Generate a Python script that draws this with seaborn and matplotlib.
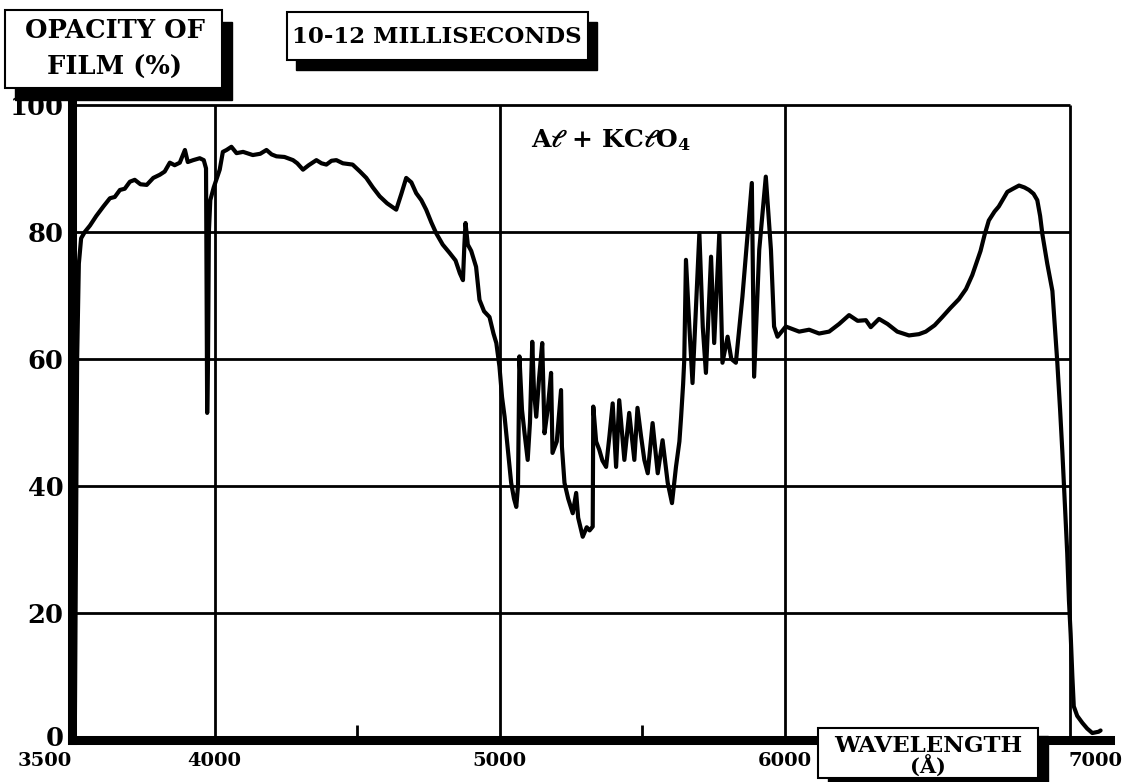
import matplotlib
matplotlib.use("Agg")
import matplotlib.pyplot as plt
import matplotlib.transforms as mtransforms
from matplotlib.patches import Rectangle
import seaborn as sns
import pandas as pd

# ---------------- data ----------------
wavelength = [3510, 3514, 3518, 3524, 3532, 3545, 3563, 3585, 3610, 3633, 3650, 3668, 3685, 3703,
              3720, 3740, 3762, 3785, 3808, 3825, 3843, 3860, 3878, 3896, 3906, 3925, 3948, 3962,
              3970, 3972, 3974, 3977, 3980, 3985, 3997, 4010, 4018, 4029, 4042, 4059, 4077, 4100,
              4134, 4160, 4182, 4200, 4217, 4245, 4275, 4290, 4310, 4330, 4357, 4375, 4392, 4410,
              4427, 4450, 4484, 4510, 4532, 4555, 4579, 4605, 4637, 4655, 4672, 4690, 4707, 4725,
              4742, 4760, 4777, 4800, 4824, 4845, 4860, 4871, 4876, 4880, 4888, 4900, 4917, 4929,
              4945, 4964, 4978, 4988, 4999, 5008, 5017, 5030, 5040, 5050, 5058, 5064, 5069, 5078,
              5087, 5098, 5106, 5114, 5120, 5128, 5138, 5149, 5157, 5168, 5180, 5185, 5200, 5215,
              5218, 5227, 5240, 5256, 5268, 5275, 5291, 5305, 5315, 5326, 5328, 5338, 5349, 5360,
              5373, 5385, 5396, 5408, 5419, 5437, 5454, 5472, 5483, 5495, 5507, 5519, 5536, 5554,
              5571, 5589, 5604, 5618, 5630, 5636, 5643, 5647, 5653, 5665, 5676, 5690, 5700, 5712,
              5723, 5741, 5752, 5770, 5781, 5799, 5812, 5828, 5851, 5870, 5884, 5892, 5910, 5933,
              5951, 5962, 5974, 6003, 6050, 6085, 6120, 6155, 6190, 6225, 6255, 6284, 6301, 6330,
              6360, 6394, 6435, 6470, 6494, 6525, 6552, 6580, 6610, 6635, 6657, 6686, 6700, 6715,
              6735, 6750, 6780, 6800, 6821, 6840, 6856, 6872, 6885, 6895, 6903, 6920, 6938, 6955,
              6965, 6973, 6982, 6990, 6996, 7002, 7008, 7013, 7025, 7043, 7060, 7078, 7100, 7107]
opacity = [2, 30, 60, 75, 79, 80, 81, 82.5, 84, 85.3, 85.5, 86.6, 86.8, 87.9,
           88.2, 87.5, 87.4, 88.5, 89, 89.5, 90.9, 90.5, 90.9, 92.9, 91, 91.3, 91.6, 91.3,
           90, 70, 51.5, 60, 80, 85, 87, 88.7, 89.8, 92.6, 92.9, 93.4, 92.4, 92.6,
           92.1, 92.3, 92.9, 92.2, 91.9, 91.8, 91.3, 90.8, 89.8, 90.5, 91.3, 90.8, 90.6, 91.2,
           91.3, 90.8, 90.6, 89.5, 88.5, 87, 85.6, 84.5, 83.5, 86, 88.5, 87.8, 86.1, 85,
           83.5, 81.5, 79.8, 78, 76.7, 75.5, 73.5, 72.4, 78, 81.4, 78, 77, 74.5, 69.3,
           67.5, 66.6, 64, 62.5, 58.8, 54, 50.9, 45, 40.5, 38, 36.7, 40, 60.4, 52,
           48.3, 44.1, 50, 62.7, 55, 50.9, 57, 62.5, 48.3, 52, 57.8, 45.2, 47, 55.1,
           46.2, 40.5, 38, 35.7, 38.9, 35, 32, 33.5, 33, 33.6, 52.5, 47, 45.7, 44,
           43, 48, 53, 43, 53.5, 44.1, 51.5, 44.1, 52.3, 48, 44.1, 42, 49.9, 42,
           47.2, 40.5, 37.3, 43, 47, 50.9, 56, 59.8, 75.6, 65, 56.2, 70, 79.8, 65,
           57.8, 76.1, 62.5, 79.8, 59.4, 63.5, 60, 59.4, 69.8, 80, 87.7, 57.2, 77.2, 88.7,
           77.2, 65.1, 63.5, 65.1, 64.3, 64.6, 64, 64.3, 65.5, 66.9, 66, 66.1, 65, 66.3,
           65.5, 64.3, 63.7, 63.9, 64.3, 65.3, 66.6, 68, 69.4, 71, 73.2, 77, 79.5, 81.8,
           83.2, 84, 86.3, 86.8, 87.3, 87, 86.6, 86, 85, 82.5, 79.6, 75, 70.7, 59.6,
           52, 45.3, 37, 29.4, 22, 16.7, 10, 5.3, 3.8, 2.7, 1.8, 1.1, 1.3, 1.5]

x_major = [3500, 4000, 5000, 6000, 7000]
x_labels = ["3500", "4000", "5000", "6000", "7000"]
x_minor = [4500, 5500]
y_major = [0, 20, 40, 60, 80, 100]
y_labels = ["0", "20", "40", "60", "80", "100"]
grid_x = [4000, 5000, 6000, 7000]
grid_y = [20, 40, 60, 80, 100]

y_title = ["OPACITY OF", "FILM (%)"]
time_title = "10-12 MILLISECONDS"
x_title = ["WAVELENGTH", "(Å)"]
compound = r"A$\ell$ + KC$\ell$O$_4$"

# ---------------- style ----------------
sns.set_theme(style="white")
plt.rcParams["font.family"] = ["DejaVu Serif"]
plt.rcParams["font.weight"] = "bold"
plt.rcParams["text.color"] = "black"
plt.rcParams["xtick.color"] = "black"
plt.rcParams["ytick.color"] = "black"
plt.rcParams["mathtext.fontset"] = "dejavuserif"
plt.rcParams["mathtext.default"] = "bf"

W, H = 1123, 782
fig = plt.figure(figsize=(W / 100, H / 100), dpi=100)
fig.patch.set_facecolor("white")

def fx(px):
    return px / W

def fy(py):
    return 1 - py / H

ax = fig.add_axes([fx(72), fy(740), fx(1110) - fx(72), fy(89) - fy(740)])
ax.set_facecolor("white")
ax.set_xlim(3500, 7140)
ax.set_ylim(0, 102.5)

# grid (black, bounded by the 3500-7000 x 0-100 frame)
ax.hlines(grid_y, x_major[0], x_major[-1], colors="black", linewidth=2.0, zorder=1)
ax.vlines(grid_x, 0, 100, colors="black", linewidth=2.0, zorder=1)

df = pd.DataFrame({"wavelength": wavelength, "opacity": opacity})
sns.lineplot(data=df, x="wavelength", y="opacity", sort=False, estimator=None,
             color="black", linewidth=3.0, ax=ax, zorder=3)

ax.set_xlabel("")
ax.set_ylabel("")
for s in ["top", "right"]:
    ax.spines[s].set_visible(False)
for s in ["left", "bottom"]:
    ax.spines[s].set_linewidth(6.5)
    ax.spines[s].set_color("black")
    ax.spines[s].set_zorder(4)

ax.set_xticks(x_major)
ax.set_xticklabels(x_labels, fontsize=14, fontweight="bold")
ax.set_xticks(x_minor, minor=True)
ax.set_yticks(y_major)
ax.set_yticklabels(y_labels, fontsize=18.5, fontweight="bold")
ax.tick_params(axis="y", which="major", length=0, pad=6)
ax.tick_params(axis="x", which="major", length=0, pad=9)
ax.tick_params(axis="x", which="minor", bottom=True, direction="in", length=11, width=2,
               color="black")

labs = ax.get_xticklabels()
labs[0].set_transform(labs[0].get_transform() +
                      mtransforms.ScaledTranslation(-0.27, 0, fig.dpi_scale_trans))
labs[-1].set_transform(labs[-1].get_transform() +
                       mtransforms.ScaledTranslation(0.25, 0, fig.dpi_scale_trans))
ylabs = ax.get_yticklabels()
ylabs[0].set_transform(ylabs[0].get_transform() +
                       mtransforms.ScaledTranslation(0, 0.04, fig.dpi_scale_trans))

ax.text(5391, 94.5, compound, fontsize=18, fontweight="bold", ha="center", va="center",
        zorder=5)

# ---------------- shadowed label boxes ----------------
def shadow_box(x0, y0, x1, y1, dx, dy):
    fig.patches.append(Rectangle((fx(x0 + dx), fy(y1 + dy)), fx(x1 - x0), fy(y0) - fy(y1),
                                 transform=fig.transFigure, facecolor="black",
                                 edgecolor="black", zorder=6))
    fig.patches.append(Rectangle((fx(x0), fy(y1)), fx(x1 - x0), fy(y0) - fy(y1),
                                 transform=fig.transFigure, facecolor="white",
                                 edgecolor="black", linewidth=1.5, zorder=7))

shadow_box(5, 10, 222, 88, 10, 12)
fig.text(fx(115), fy(31), y_title[0], ha="center", va="center", fontsize=18.5,
         fontweight="bold", zorder=8)
fig.text(fx(115), fy(67), y_title[1], ha="center", va="center", fontsize=18.5,
         fontweight="bold", zorder=8)

shadow_box(287, 12, 588, 60, 9, 10)
fig.text(fx(437), fy(37), time_title, ha="center", va="center", fontsize=16.5,
         fontweight="bold", zorder=8)

shadow_box(818, 728, 1038, 778, 10, 8)
fig.text(fx(928), fy(746), x_title[0], ha="center", va="center", fontsize=16.5,
         fontweight="bold", zorder=8)
fig.text(fx(928), fy(767), x_title[1], ha="center", va="center", fontsize=15,
         fontweight="bold", zorder=8)

fig.savefig("out.png", dpi=100, facecolor="white")
